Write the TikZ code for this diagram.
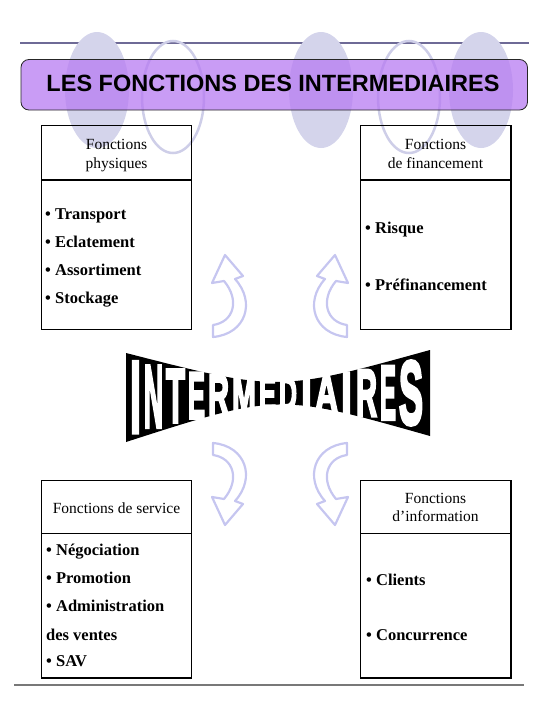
\documentclass[tikz,border=0pt]{standalone}
\usepackage{fontspec}
\usepackage{graphicx}
\setmainfont{Liberation Serif}
\newfontfamily\titlefont{Liberation Sans}
\newfontfamily\wafont{Liberation Sans}[FakeBold=4.5]
\definecolor{topline}{RGB}{110,106,150}
\definecolor{titlefill}{RGB}{183,123,242}
\definecolor{ellfill}{RGB}{212,212,235}
\definecolor{elldraw}{RGB}{206,206,232}
\definecolor{arrowcol}{RGB}{198,198,240}
\definecolor{botline}{RGB}{120,120,120}
\tikzset{
  boxline/.style={draw=black, line width=1.8pt},
  hdr/.style={inner sep=0pt, anchor=base, font=\fontsize{15.5}{18}\selectfont},
  item/.style={inner sep=0pt, anchor=base west, font=\fontsize{16.5}{19}\selectfont\bfseries},
  arrowline/.style={draw=arrowcol, line width=2.2pt, line join=round},
  ellf/.style={fill=ellfill},
  ello/.style={draw=elldraw, line width=2.5pt},
  wl/.style={inner sep=0pt, text=white}
}
% word-art glyph: width, height, letter
\newcommand\waglyph[3]{\resizebox{#1pt}{#2pt}{\wafont\bfseries #3}}
\begin{document}
\begin{tikzpicture}[x=1pt,y=-1pt]
\useasboundingbox (0,0) rectangle (540,720);
% top line
\draw[topline, line width=2pt] (20,43) -- (529,43);
% ellipses
\fill[ellf] (97,90) ellipse [x radius=32, y radius=58];
\fill[ellf] (321,90) ellipse [x radius=32, y radius=58];
\fill[ellf] (481,90) ellipse [x radius=32, y radius=58];
\draw[ello] (173,97) ellipse [x radius=31, y radius=56];
\draw[ello] (409,97) ellipse [x radius=31, y radius=56];
% title box
\fill[titlefill, fill opacity=0.75, rounded corners=8pt] (21,59.5) rectangle (527.5,110);
\draw[black!85, line width=0.8pt, rounded corners=8pt] (21,59.5) rectangle (527.5,110);
\node[inner sep=0pt, anchor=base, font=\titlefont\bfseries\fontsize{23.5}{28}\selectfont] (title) at (273,91.7) {LES FONCTIONS DES INTERMEDIAIRES};

% top-left box
\draw[boxline] (41.5,125.5) rectangle (191.5,329.5);
\draw[boxline] (41.5,180) -- (191.5,180);
\node[hdr] (tlh1) at (116.5,149.5) {Fonctions};
\node[hdr] (tlh2) at (116.5,168.5) {physiques};
\node[item] (tl1) at (45,219.3) {• Transport};
\node[item] (tl2) at (45,247.5) {• Eclatement};
\node[item] (tl3) at (45,275.7) {• Assortiment};
\node[item] (tl4) at (45,303.9) {• Stockage};

% top-right box
\draw[boxline] (360.5,125.5) rectangle (511,329.5);
\draw[boxline] (360.5,180) -- (511,180);
\node[hdr] (trh1) at (435.5,149.5) {Fonctions};
\node[hdr] (trh2) at (435.5,168.5) {de financement};
\node[item] (tr1) at (365,233.3) {• Risque};
\node[item] (tr2) at (365,290) {• Préfinancement};

% bottom-left box
\draw[boxline] (41.5,480.5) rectangle (191.5,678);
\draw[boxline] (41.5,533.5) -- (191.5,533.5);
\node[hdr] (blh1) at (116.5,513.3) {Fonctions de service};
\node[item] (bl1) at (46,555) {• Négociation};
\node[item] (bl2) at (46,583.3) {• Promotion};
\node[item] (bl3) at (46,611.7) {• Administration};
\node[item] (bl4) at (46,640) {des ventes};
\node[item] (bl5) at (46,666.7) {• SAV};

% bottom-right box
\draw[boxline] (360.5,480.5) rectangle (511,678);
\draw[boxline] (360.5,533.5) -- (511,533.5);
\node[hdr] (brh1) at (435.5,503.3) {Fonctions};
\node[hdr] (brh2) at (435.5,521.7) {d’information};
\node[item] (br1) at (366,585) {• Clients};
\node[item] (br2) at (366,640) {• Concurrence};

% bottom line
\draw[botline, line width=1.5pt] (14,685) -- (524,685);

% curved arrows
\draw[arrowline] (213,337) .. controls (246,334) and (256,302) .. (235,279) -- (243,276) -- (225,255) -- (212,283) -- (224,281) .. controls (240,300) and (234,322) .. (213,325) -- cycle;
\begin{scope}[shift={(560,0)}, xscale=-1]
\draw[arrowline] (213,337) .. controls (246,334) and (256,302) .. (235,279) -- (243,276) -- (225,255) -- (212,283) -- (224,281) .. controls (240,300) and (234,322) .. (213,325) -- cycle;
\end{scope}
\begin{scope}[shift={(0,780)}, yscale=-1]
\draw[arrowline] (213,337) .. controls (246,334) and (256,302) .. (235,279) -- (243,276) -- (225,255) -- (212,283) -- (224,281) .. controls (240,300) and (234,322) .. (213,325) -- cycle;
\end{scope}
\begin{scope}[shift={(560,780)}, xscale=-1, yscale=-1]
\draw[arrowline] (213,337) .. controls (246,334) and (256,302) .. (235,279) -- (243,276) -- (225,255) -- (212,283) -- (224,281) .. controls (240,300) and (234,322) .. (213,325) -- cycle;
\end{scope}

% word art
\fill[black] (126,353) .. controls (278,392) .. (430,350) -- (430,436) .. controls (278,393) .. (126,442) -- cycle;
\node[wl] (w1) at (135.5,397.2) {\waglyph{11}{70}{I}};
\node[wl] (w2) at (153.5,396.7) {\waglyph{19}{61}{N}};
\node[wl] (w3) at (175.5,396.0) {\waglyph{19}{52.5}{T}};
\node[wl] (w4) at (196.5,395.6) {\waglyph{17}{45.5}{E}};
\node[wl] (w5) at (218.5,395.0) {\waglyph{21}{40}{R}};
\node[wl] (w6) at (244,394.4) {\waglyph{24}{36}{M}};
\node[wl] (w7) at (267.5,394.1) {\waglyph{17}{34}{E}};
\node[wl] (w8) at (288,393.7) {\waglyph{18}{33.5}{D}};
\node[wl] (w9) at (306.5,393.5) {\waglyph{11}{34.5}{I}};
\node[wl] (w10) at (326.5,393.2) {\waglyph{23}{37}{A}};
\node[wl] (w11) at (346.5,393.2) {\waglyph{11}{41}{I}};
\node[wl] (w12) at (366.5,393.1) {\waglyph{21}{46}{R}};
\node[wl] (w13) at (388,392.9) {\waglyph{16}{53}{E}};
\node[wl] (w14) at (411,393.0) {\waglyph{24}{63}{S}};
\end{tikzpicture}
\end{document}
